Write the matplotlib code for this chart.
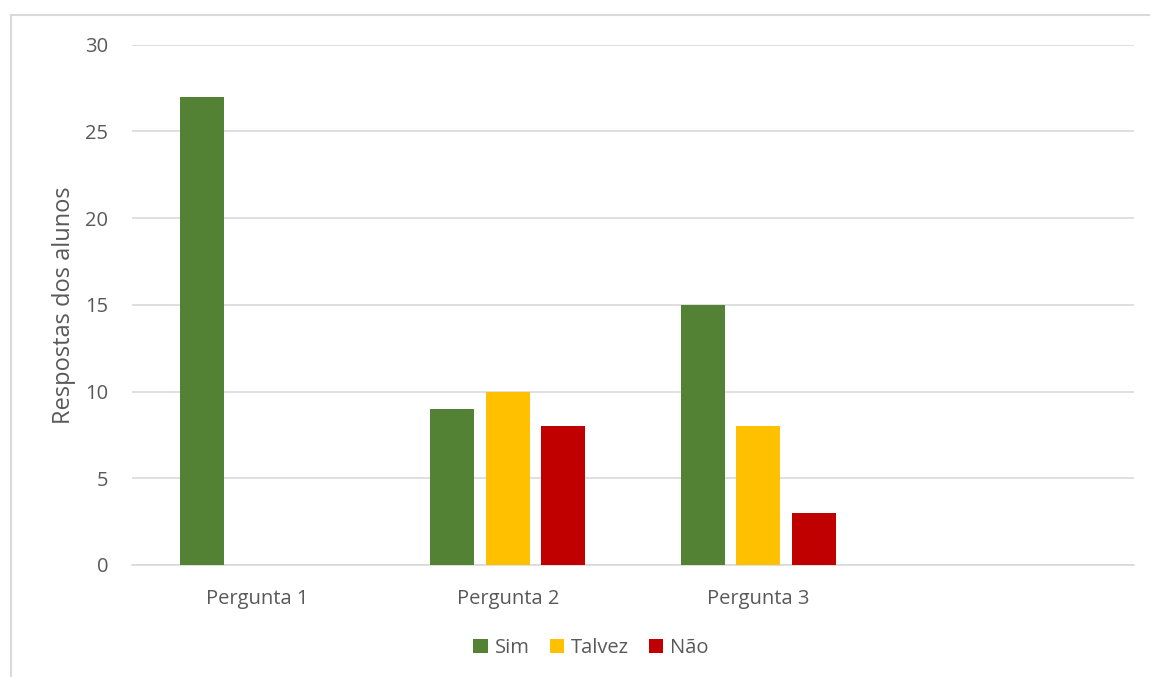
import matplotlib.pyplot as plt
import numpy as np
from matplotlib.lines import Line2D

# dados
perguntas = ["Pergunta 1", "Pergunta 2", "Pergunta 3", ""]
sim = [27, 9, 15, 0]
talvez = [0, 10, 8, 0]
nao = [0, 8, 3, 0]

series = [("Sim", sim, "#548235"), ("Talvez", talvez, "#FFC000"), ("Não", nao, "#C00000")]

plt.rcParams["font.family"] = ["Open Sans", "DejaVu Sans"]
texto = "#595959"
grelha = "#D9D9D9"

fig = plt.figure(figsize=(11.5, 6.77), dpi=100)
ax = fig.add_axes([132 / 1150, 1 - 565 / 677, (1134 - 132) / 1150, (565 - 44.5) / 677])

x = np.arange(len(perguntas)) + 0.5
width = 0.176
step = 0.2216
for i, (nome, vals, cor) in enumerate(series):
    ax.bar(x + (i - 1) * step, vals, width, color=cor, label=nome, zorder=3)

ax.set_xlim(0, len(perguntas))
ax.set_ylim(0, 30)
ax.set_yticks(range(0, 31, 5))
ax.set_xticks(x)
ax.set_xticklabels(perguntas)
ax.grid(axis="y", color=grelha, linewidth=1.2, zorder=0)
for s in ["top", "right", "left"]:
    ax.spines[s].set_visible(False)
ax.spines["bottom"].set_color(grelha)
ax.spines["bottom"].set_linewidth(1.2)
ax.tick_params(axis="both", length=0, labelsize=14.5, colors=texto)
ax.tick_params(axis="y", pad=17)
ax.tick_params(axis="x", pad=17)
ax.set_ylabel("Respostas dos alunos", fontsize=17, color=texto, labelpad=7)

leg = fig.legend(loc="center", bbox_to_anchor=(591 / 1150, 1 - 648 / 677), ncol=3,
                 frameon=False, fontsize=14.5, handlelength=0.7, handleheight=0.7,
                 handletextpad=0.35, columnspacing=1.0)
for t in leg.get_texts():
    t.set_color(texto)

# moldura da área do gráfico (só topo e esquerda visíveis)
fig.add_artist(Line2D([11 / 1150, 1], [1 - 15 / 677, 1 - 15 / 677], color=grelha, linewidth=1.5))
fig.add_artist(Line2D([11 / 1150, 11 / 1150], [0, 1 - 15 / 677], color=grelha, linewidth=1.5))

fig.savefig("out.png", dpi=100)
